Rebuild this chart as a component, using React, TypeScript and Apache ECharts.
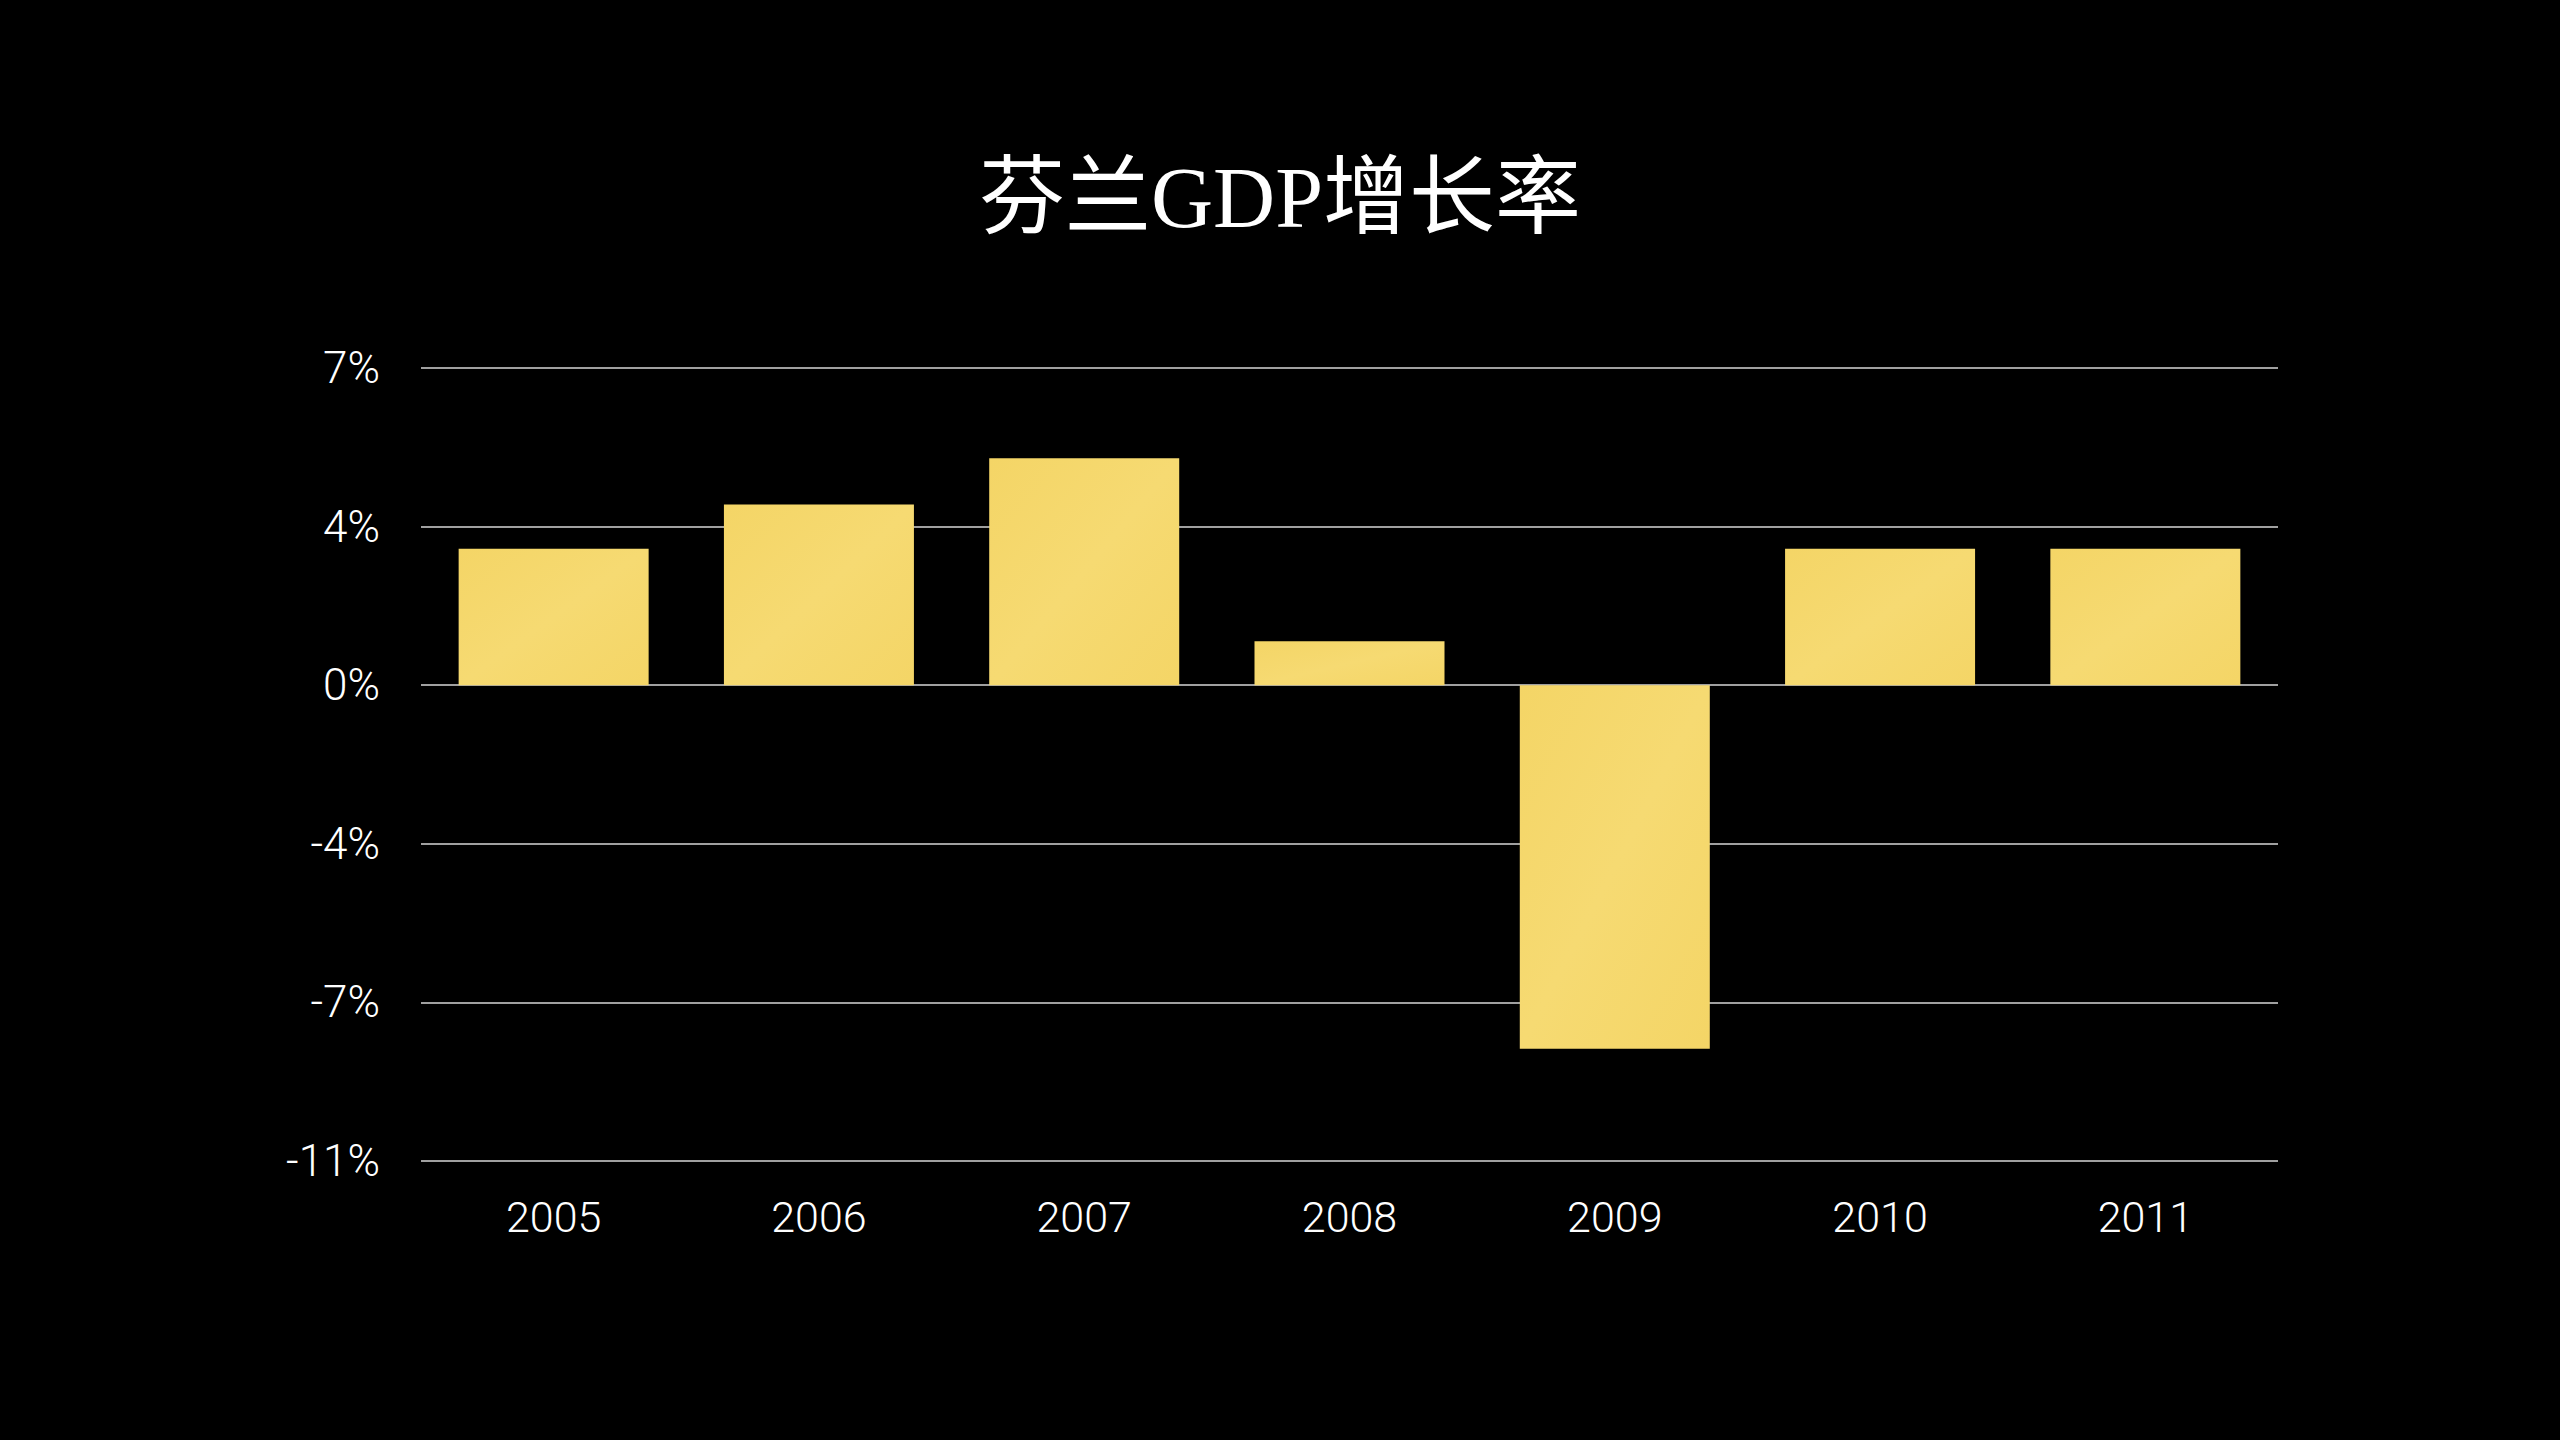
import React, { useEffect, useRef } from "react";
import * as echarts from "echarts";

const titleText = "芬兰GDP增长率";
const years = ["2005", "2006", "2007", "2008", "2009", "2010", "2011"];
const growth = [3.1, 4.1, 5.15, 1.0, -8.25, 3.1, 3.1];
const yMin = -10.8;
const yMax = 7.2;
const yStep = 3.6;

export default function App() {
  const ref = useRef<HTMLDivElement>(null);
  useEffect(() => {
    if (!ref.current) return;
    const chart = echarts.init(ref.current, undefined, { renderer: "svg" });
    chart.setOption({
      animation: false,
      backgroundColor: "#000000",
      title: {
        text: titleText,
        left: "center",
        top: 150,
        textStyle: {
          color: "#ffffff",
          fontSize: 86,
          fontWeight: "normal",
          fontFamily: "'Liberation Serif', 'Noto Sans CJK SC', serif",
        },
      },
      grid: { left: 421, right: 282, top: 368, bottom: 279, containLabel: false },
      xAxis: {
        type: "category",
        data: years,
        axisLine: { show: false },
        axisTick: { show: false },
        axisLabel: {
          color: "#ffffff",
          fontSize: 43,
          margin: 34,
          fontFamily: "Roboto, 'Liberation Sans', sans-serif",
          fontWeight: 300,
        },
      },
      yAxis: {
        type: "value",
        min: yMin,
        max: yMax,
        interval: yStep,
        axisLine: { show: false },
        axisTick: { show: false },
        splitLine: { show: true, lineStyle: { color: "#d6d6d6", width: 1.5 } },
        axisLabel: {
          color: "#ffffff",
          fontSize: 44,
          margin: 41,
          fontFamily: "Roboto, 'Liberation Sans', sans-serif",
          fontWeight: 300,
          formatter: (v: number) => `${Math.round(v) === 0 ? 0 : Math.round(v)}%`,
        },
      },
      series: [
        {
          type: "bar",
          data: growth,
          barWidth: 190,
          itemStyle: {
            color: new echarts.graphic.LinearGradient(0, 0, 1, 1, [
              { offset: 0, color: "#f4d566" },
              { offset: 0.5, color: "#f6da72" },
              { offset: 1, color: "#f4d566" },
            ]),
          },
        },
      ],
    });
    return () => chart.dispose();
  }, []);
  return (
    <div
      ref={ref}
      style={{ position: "fixed", left: 0, top: 0, width: 2560, height: 1440 }}
    />
  );
}
